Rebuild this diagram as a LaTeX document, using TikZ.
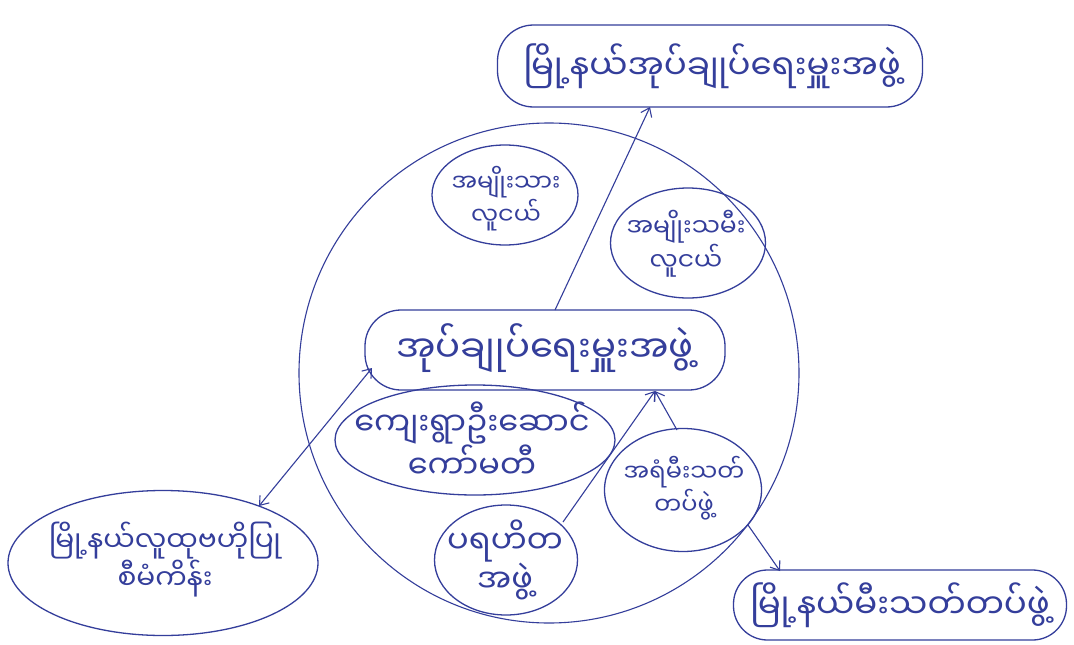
\documentclass[tikz,border=0pt]{standalone}
\usepackage{fontspec}
\newfontfamily\mm[Script=Myanmar]{Noto Sans Myanmar UI}
\usetikzlibrary{shapes.geometric,arrows.meta,calc}
\definecolor{ink}{RGB}{52,62,155}
\newcommand{\mmsize}[1]{\mm\fontsize{#1}{1.2\dimexpr #1pt\relax}\selectfont}
\begin{document}
\begin{tikzpicture}[x=1pt,y=-1pt,
  blob/.style={draw=ink, line width=1.3pt, ellipse, inner sep=0pt},
  pill/.style={draw=ink, line width=1.3pt, rectangle, rounded corners=36pt, inner sep=0pt},
  txt/.style={text=ink, align=center, inner sep=0pt},
  arr/.style={draw=ink, line width=1.1pt, -{Straight Barb[length=8pt,width=12pt]}},
  darr/.style={draw=ink, line width=1.1pt, {Straight Barb[length=8pt,width=12pt]}-{Straight Barb[length=8pt,width=12pt]}}
]
\fill[white] (0,0) rectangle (1074,645);
\useasboundingbox (0,0) rectangle (1074,645);

\node[circle, draw=ink, line width=1.1pt, minimum size=500pt, inner sep=0pt] (circ) at (549,373) {};

\node[pill, minimum width=425pt, minimum height=82pt] (top) at (710,66) {};
\node[blob, minimum width=146pt, minimum height=100pt] (ym) at (505,195) {};
\node[blob, minimum width=155pt, minimum height=110pt] (yf) at (688,243) {};
\node[pill, minimum width=360pt, minimum height=80pt] (centre) at (545,350) {};
\node[blob, minimum width=280pt, minimum height=110pt] (vil) at (475,440) {};
\node[blob, minimum width=157pt, minimum height=123pt] (fire) at (683,490) {};
\node[blob, minimum width=143pt, minimum height=110pt] (char) at (506,560) {};
\node[blob, minimum width=310pt, minimum height=145pt] (bl) at (163,563) {};
\node[pill, minimum width=333pt, minimum height=70pt, rounded corners=34pt] (br) at (900,605) {};

\node[txt, font=\mmsize{34}] (topT) at (712,66) {မြို့နယ်အုပ်ချုပ်ရေးမှူးအဖွဲ့};
\node[txt, font=\mmsize{24}] (ymT) at (506,199) {အမျိုးသား\\လူငယ်};
\node[txt, font=\mmsize{25}] (yfT) at (686,244) {အမျိုးသမီး\\လူငယ်};
\node[txt, font=\mmsize{37}] (centreT) at (545,348) {အုပ်ချုပ်ရေးမှူးအဖွဲ့};
\node[txt, font=\mmsize{32}] (vilT) at (472,440) {ကျေးရွာဦးဆောင်\\ကော်မတီ};
\node[txt, font=\mmsize{24}] (fireT) at (684,488) {အရံမီးသတ်\\တပ်ဖွဲ့};
\node[txt, font=\mmsize{32}] (charT) at (505,560) {ပရဟိတ\\အဖွဲ့};
\node[txt, font=\mmsize{28}] (blT) at (165,560) {မြို့နယ်လူထုဗဟိုပြု\\စီမံကိန်း};
\node[txt, font=\mmsize{34}] (brT) at (900,605) {မြို့နယ်မီးသတ်တပ်ဖွဲ့};

\draw[arr] ($(centre.center)+(10,-40)$) -- ($(top.center)+(-60,41)$);
\draw[darr] ($(bl.center)+(96,-57)$) -- ($(centre.center)+(-173,18)$);
\draw[arr] ($(char.center)+(57,-38)$) -- ($(centre.center)+(110,41)$);
\draw[arr] ($(fire.center)+(-6,-60)$) -- ($(centre.center)+(110,41)$);
\draw[arr] ($(fire.center)+(65,35)$) -- ($(br.center)+(-120,-34)$);
\end{tikzpicture}
\end{document}
